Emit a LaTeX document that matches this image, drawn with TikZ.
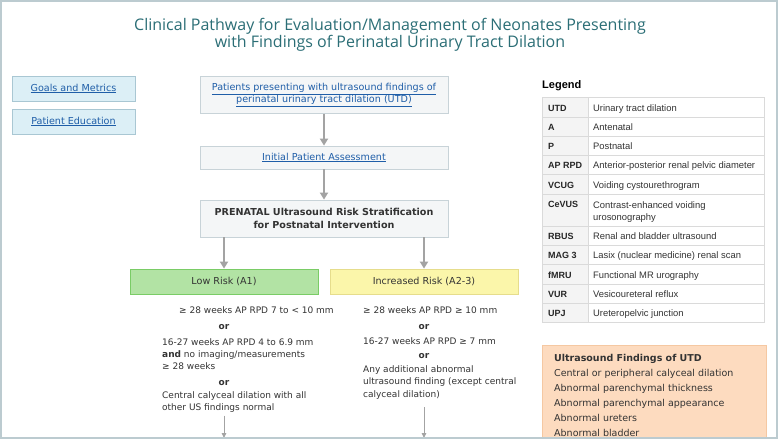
\documentclass[tikz,border=0pt]{standalone}
\usepackage{fontspec}
\setmainfont{DejaVu Sans}
\newfontfamily\legendfont{Liberation Sans}
\newfontfamily\titlefont{Open Sans}
\usepackage{tikz}
\usetikzlibrary{arrows.meta}
\definecolor{titleteal}{HTML}{2B6E76}
\definecolor{linkblue}{HTML}{1F5EA8}
\definecolor{bodytext}{HTML}{333333}
\definecolor{sidefill}{HTML}{DCEFF6}
\definecolor{sideline}{HTML}{A9C7D3}
\definecolor{stepfill}{HTML}{F4F6F7}
\definecolor{stepline}{HTML}{C8D3D8}
\definecolor{lowfill}{HTML}{B2E3A4}
\definecolor{lowline}{HTML}{7ACC66}
\definecolor{incfill}{HTML}{FBF6AA}
\definecolor{incline}{HTML}{E6DD8C}
\definecolor{findfill}{HTML}{FDDBBF}
\definecolor{findline}{HTML}{F5C8A2}
\definecolor{arrowgray}{HTML}{A3A3A3}
\definecolor{tablegray}{HTML}{DADADA}
\definecolor{keyfill}{HTML}{F4F4F4}
\definecolor{framegray}{HTML}{BCCBD0}
\newcommand\boxtext{\fontsize{9.6}{12.5}\selectfont}
\newcommand\smalltext{\fontsize{9}{12.3}\selectfont}
\tikzset{
  linkbox/.style  = {draw=sideline, fill=sidefill, line width=0.8pt, minimum width=123pt,
                     minimum height=25pt, text=linkblue, font=\boxtext},
  stepbox/.style  = {draw=stepline, fill=stepfill, line width=0.8pt, minimum width=248pt,
                     align=center, text=linkblue, font=\boxtext},
  riskbox/.style  = {line width=0.8pt, minimum width=188pt, minimum height=25pt,
                     text=bodytext, font=\boxtext},
  flowarr/.style  = {-{Triangle[length=7pt,width=8pt]}, line width=1.8pt, arrowgray},
  thinarr/.style  = {-{Triangle[length=5pt,width=4.5pt]}, line width=1pt, arrowgray},
  crit/.style     = {anchor=west, inner sep=0pt, align=left, text=bodytext, font=\smalltext},
  ortext/.style   = {inner sep=0pt, text=bodytext, font=\smalltext\bfseries},
  tblline/.style  = {draw=tablegray, line width=0.8pt},
  tblkey/.style   = {anchor=base west, inner sep=0pt, text=black!85,
                     font=\legendfont\fontsize{9}{12}\selectfont\bfseries},
  tbldesc/.style  = {anchor=base west, inner sep=0pt, align=left, text=bodytext,
                     font=\legendfont\fontsize{9.4}{12}\selectfont},
  frameline/.style = {draw=framegray, line width=2pt}
}

\begin{document}
\begin{tikzpicture}[x=1pt,y=-1pt]
  \clip (0,0) rectangle (780,439);
  \fill[white] (0,0) rectangle (780,439);

  \node[font=\titlefont\fontsize{16}{17}\selectfont, text=titleteal, align=center] (title)
        at (390,35) {Clinical Pathway for Evaluation/Management of Neonates Presenting\\
                     with Findings of Perinatal Urinary Tract Dilation};

  % side links
  \node[linkbox] (goals) at (73.5,88.5)  {\underline{Goals and Metrics}};
  \node[linkbox] (edu)   at (73.5,121.5) {\underline{Patient Education}};

  % main column
  \node[stepbox, minimum height=37pt] (patients) at (324,95)
        {\underline{Patients presenting with ultrasound findings of}\\
         \underline{perinatal urinary tract dilation (UTD)}};
  \node[stepbox, minimum height=23pt] (initial) at (324,157.5)
        {\underline{Initial Patient Assessment}};
  \node[stepbox, minimum height=37pt, text=bodytext, font=\boxtext\bfseries] (prenatal)
        at (324,218.5) {PRENATAL Ultrasound Risk Stratification\\for Postnatal Intervention};
  \node[riskbox, fill=lowfill, draw=lowline] (low) at (224,281.5) {Low Risk (A1)};
  \node[riskbox, fill=incfill, draw=incline] (inc) at (424,281.5) {Increased Risk (A2-3)};

  \draw[flowarr] (patients) -- (initial);
  \draw[flowarr] (initial) -- (prenatal);
  \draw[flowarr] (prenatal.south -| low.north) -- (low.north);
  \draw[flowarr] (prenatal.south -| inc.north) -- (inc.north);

  % low risk criteria
  \node[crit]   (lowA)   at (179,310)   {≥ 28 weeks AP RPD 7 to < 10 mm};
  \node[ortext] (lowOr1) at (224,327.5) {or};
  \node[crit]   (lowB)   at (162,354)
        {16-27 weeks AP RPD 4 to 6.9 mm\\\textbf{and} no imaging/measurements\\≥ 28 weeks};
  \node[ortext] (lowOr2) at (224,383.5) {or};
  \node[crit]   (lowC)   at (162,402)
        {Central calyceal dilation with all\\other US findings normal};
  \coordinate (lowEnd) at (224,438);
  \draw[thinarr, shorten <=3pt] (lowC.south -| lowEnd) -- (lowEnd);

  % increased risk criteria
  \node[crit]   (incA)   at (363,310)   {≥ 28 weeks AP RPD ≥ 10 mm};
  \node[ortext] (incOr1) at (424,327.5) {or};
  \node[crit]   (incB)   at (363,341)   {16-27 weeks AP RPD ≥ 7 mm};
  \node[ortext] (incOr2) at (424,356.5) {or};
  \node[crit]   (incC)   at (363,382.5)
        {Any additional abnormal\\ultrasound finding (except central\\calyceal dilation)};
  \coordinate (incEnd) at (424,438);
  \draw[thinarr, shorten <=8pt] (incC.south -| incEnd) -- (incEnd);

  % legend
  \node[anchor=base west, inner sep=0pt, font=\legendfont\fontsize{11}{13}\selectfont\bfseries]
        (legend) at (542,88) {Legend};
  \foreach \top/\bot/\key/\desc [count=\i] in {
      97.5/117/UTD/Urinary tract dilation,
      117/136/A/Antenatal,
      136/155/P/Postnatal,
      155/174.5/AP RPD/Anterior-posterior renal pelvic diameter,
      174.5/194/VCUG/Voiding cystourethrogram,
      194/226/CeVUS/{Contrast-enhanced voiding\\urosonography},
      226/245/RBUS/Renal and bladder ultrasound,
      245/264.5/MAG 3/Lasix (nuclear medicine) renal scan,
      264.5/284/fMRU/Functional MR urography,
      284/303/VUR/Vesicoureteral reflux,
      303/322.5/UPJ/Ureteropelvic junction} {
    \draw[tblline, fill=keyfill] (542,\top) rectangle (588,\bot);
    \draw[tblline] (588,\top) rectangle (764,\bot);
    \node[tblkey]  (key\i)  at (548,\top+13.5) {\key};
    % a two-line cell sits on its last line
    \node[tbldesc] (desc\i) at (593,\bot-6) {\desc};
  }

  % findings box
  \filldraw[fill=findfill, draw=findline, line width=0.8pt] (542,345) rectangle (766,450);
  \node[anchor=north west, inner sep=0pt, align=left, text=bodytext,
        font=\fontsize{9.5}{15}\selectfont] (findings) at (554,354)
        {\textbf{Ultrasound Findings of UTD}\\Central or peripheral calyceal dilation\\
         Abnormal parenchymal thickness\\Abnormal parenchymal appearance\\
         Abnormal ureters\\Abnormal bladder};

  \draw[frameline] (1,1) rectangle (777,438);
\end{tikzpicture}
\end{document}
